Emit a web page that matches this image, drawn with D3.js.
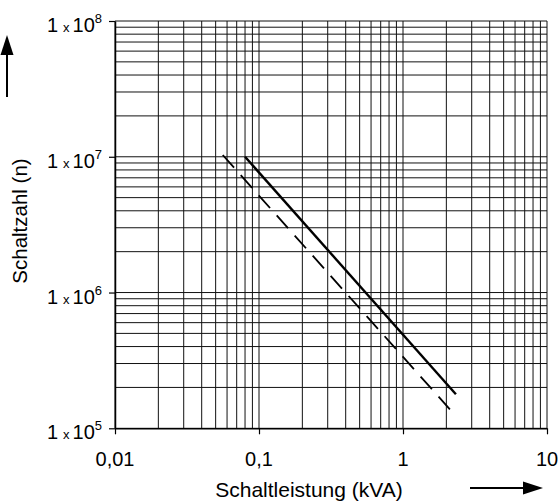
<!DOCTYPE html>
<html>
<head>
<meta charset="utf-8">
<script src="https://cdn.jsdelivr.net/npm/d3@7"></script>
<style>
  html, body { margin: 0; padding: 0; background: #fff; }
  svg { display: block; font-family: "Liberation Sans", Arial, sans-serif; }
</style>
</head>
<body>
<svg id="chart" width="559" height="501"></svg>
<script>
// Decade ticks of the log axes
const xTickValues = [0.01, 0.1, 1, 10];
const xTickLabels = ["0,01", "0,1", "1", "10"];
const yExponents = [5, 6, 7, 8];

// Switching capacity (kVA) vs. number of operations
const solidX = [0.08, 2.33];
const solidN = [1.0e7, 1.78e5];
const dashedX = [0.056, 2.33];
const dashedN = [1.03e7, 1.23e5];

const xTitle = "Schaltleistung (kVA)";
const yTitle = "Schaltzahl (n)";

const svg = d3.select("#chart");
const plotL = 115, plotR = 547, plotT = 21, plotB = 428.3;

const x = d3.scaleLog().domain([0.01, 10]).range([plotL, plotR]);
const y = d3.scaleLog().domain([1e5, 1e8]).range([plotB, plotT]);

// Grid lines at 1..9 × each decade
const xGrid = [], yGrid = [];
for (let e = -2; e < 1; e++) for (let k = 1; k < 10; k++) xGrid.push(k * Math.pow(10, e));
xGrid.push(10);
for (let e = 5; e < 8; e++) for (let k = 1; k < 10; k++) yGrid.push(k * Math.pow(10, e));
yGrid.push(1e8);

const grid = svg.append("g").attr("stroke", "#111").attr("stroke-width", 1);
grid.selectAll("line.v").data(xGrid).join("line")
  .attr("class", "v")
  .attr("x1", d => x(d)).attr("x2", d => x(d))
  .attr("y1", plotT).attr("y2", plotB);
grid.selectAll("line.h").data(yGrid).join("line")
  .attr("class", "h")
  .attr("x1", plotL).attr("x2", plotR)
  .attr("y1", d => y(d)).attr("y2", d => y(d));

// Axes (tick marks only; labels drawn separately)
const xAxis = svg.append("g")
  .attr("transform", `translate(0,${plotB})`)
  .call(d3.axisBottom(x).tickValues(xTickValues).tickSize(6).tickSizeOuter(0).tickFormat(""));
const yAxis = svg.append("g")
  .attr("transform", `translate(${plotL},0)`)
  .call(d3.axisLeft(y).tickValues(yExponents.map(e => Math.pow(10, e))).tickSize(6).tickSizeOuter(0).tickFormat(""));
[xAxis, yAxis].forEach(a => {
  a.selectAll("path.domain").attr("stroke", "#000").attr("stroke-width", 1.5);
  a.selectAll(".tick line").attr("stroke", "#000").attr("stroke-width", 1.2);
});

// X tick labels
svg.append("g").selectAll("text").data(xTickValues).join("text")
  .attr("x", d => x(d))
  .attr("y", 466)
  .attr("text-anchor", "middle")
  .attr("font-size", 20)
  .attr("fill", "#000")
  .text((d, i) => xTickLabels[i]);

// Y tick labels: 1 x 10^n
const yLab = svg.append("g").selectAll("text").data(yExponents).join("text")
  .attr("x", 102)
  .attr("y", d => y(Math.pow(10, d)) + 11)
  .attr("text-anchor", "end")
  .attr("font-size", 20)
  .attr("fill", "#000");
yLab.append("tspan").text("1");
yLab.append("tspan").attr("font-size", 13).attr("dx", 5).text("x");
yLab.append("tspan").attr("dx", 3).text("10");
yLab.append("tspan").attr("font-size", 13).attr("dy", -9).text(d => d);

// Curves
const line = d3.line().x(d => x(d[0])).y(d => y(d[1]));
svg.append("path")
  .datum(solidX.map((v, i) => [v, solidN[i]]))
  .attr("d", line)
  .attr("fill", "none").attr("stroke", "#000").attr("stroke-width", 2.4);
svg.append("path")
  .datum(dashedX.map((v, i) => [v, dashedN[i]]))
  .attr("d", line)
  .attr("fill", "none").attr("stroke", "#000").attr("stroke-width", 1.8)
  .attr("stroke-dasharray", "17,10");

// Axis titles
svg.append("text")
  .attr("x", 309).attr("y", 497)
  .attr("text-anchor", "middle")
  .attr("font-size", 21)
  .attr("fill", "#000")
  .text(xTitle);
svg.append("text")
  .attr("transform", "translate(27,221) rotate(-90)")
  .attr("text-anchor", "middle")
  .attr("font-size", 20.5)
  .attr("fill", "#000")
  .text(yTitle);

// Direction arrows
const arrows = svg.append("g").attr("fill", "#000").attr("stroke", "#000");
arrows.append("line").attr("x1", 7).attr("x2", 7).attr("y1", 97).attr("y2", 52).attr("stroke-width", 2);
arrows.append("path").attr("d", "M7,35 L13.5,55 L0.5,55 Z").attr("stroke", "none");
arrows.append("line").attr("x1", 470).attr("x2", 526).attr("y1", 488).attr("y2", 488).attr("stroke-width", 2);
arrows.append("path").attr("d", "M543,488 L523,481.5 L523,494.5 Z").attr("stroke", "none");
</script>
</body>
</html>
